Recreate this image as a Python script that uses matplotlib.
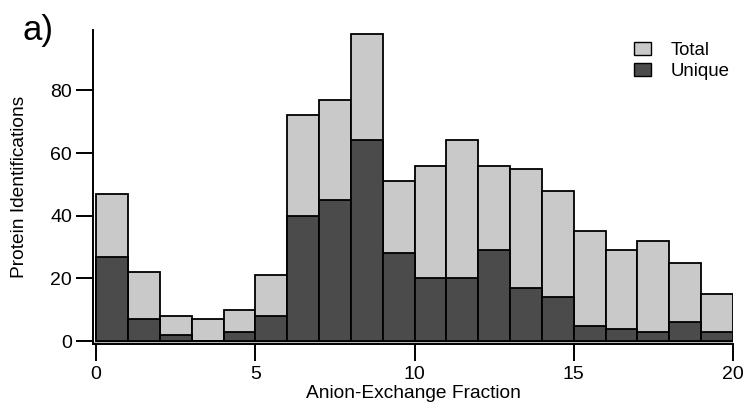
import matplotlib
matplotlib.use("Agg")
import matplotlib.pyplot as plt
import numpy as np
from matplotlib.patches import Patch

plt.rcParams['font.family'] = ['Liberation Sans', 'DejaVu Sans']

# Protein identifications per anion-exchange fraction
fractions = np.arange(20)
total = [47, 22, 8, 7, 10, 21, 72, 77, 98, 51, 56, 64, 56, 55, 48, 35, 29, 32, 25, 15]
unique = [27, 7, 2, 0, 3, 8, 40, 45, 64, 28, 20, 20, 29, 17, 14, 5, 4, 3, 6, 3]
xticks = [0, 5, 10, 15, 20]
yticks = [0, 20, 40, 60, 80]

light = '#c9c9c9'
dark = '#4b4b4b'

fig = plt.figure(figsize=(7.45, 4.12), dpi=100)
ax = fig.add_axes([0.1248, 0.165, 0.859, 0.762])

ax.bar(fractions, total, width=1.0, align='edge', color=light,
       edgecolor='black', linewidth=1.3, zorder=2)
ax.bar(fractions, unique, width=1.0, align='edge', color=dark,
       edgecolor='black', linewidth=1.3, zorder=3)

# doubled baseline under the bars
ax.axhline(-0.45, xmin=0.0, xmax=1.0, color='#b5b5b5', lw=2.2, zorder=1)

ax.set_xlim(-0.1, 20)
ax.set_ylim(-0.9, 99.2)

for s in ['top', 'right']:
    ax.spines[s].set_visible(False)
for s in ['left', 'bottom']:
    ax.spines[s].set_linewidth(1.4)

ax.set_xticks(xticks)
ax.set_yticks(yticks)
ax.tick_params(axis='both', direction='out', length=12, width=1.4,
               labelsize=14, colors='black')
ax.tick_params(axis='x', pad=4)
ax.tick_params(axis='y', pad=3)

ax.set_xlabel('Anion-Exchange Fraction', fontsize=13.8, labelpad=1)
ax.set_ylabel('Protein Identifications', fontsize=13.8, labelpad=16)

fig.text(0.030, 0.885, 'a)', fontsize=25, ha='left', va='bottom')

handles = [Patch(facecolor=light, edgecolor='black', linewidth=1.0, label='Total'),
           Patch(facecolor=dark, edgecolor='black', linewidth=1.0, label='Unique')]
ax.legend(handles=handles, loc='upper right', bbox_to_anchor=(1.006, 0.985),
          frameon=False, fontsize=13.4, handlelength=0.9, handleheight=0.7,
          handletextpad=1.05, labelspacing=0.2, borderaxespad=0.0)

fig.savefig('out.png', dpi=100)
